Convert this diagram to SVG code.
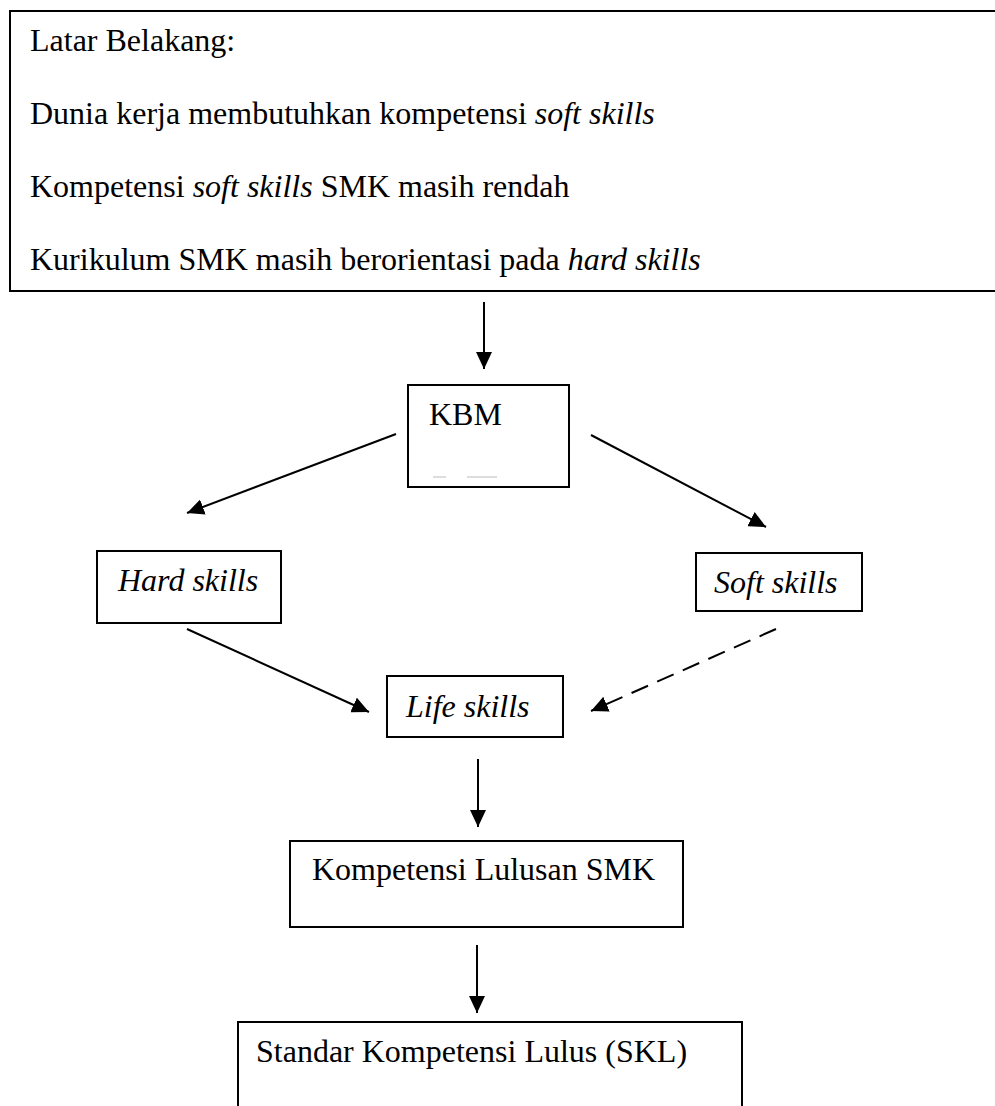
<svg xmlns="http://www.w3.org/2000/svg" width="995" height="1106" viewBox="0 0 995 1106">
<style>
  .box { fill: #ffffff; stroke: #000000; stroke-width: 2; }
  .t { font-family: "Liberation Serif", "Times New Roman", serif; font-size: 32px; fill: #000000; }
  .i { font-style: italic; }
  .c { stroke: #000000; stroke-width: 2; fill: none; marker-end: url(#ah); }
  .dash { stroke-dasharray: 18 10; }
</style>
<defs>
  <marker id="ah" viewBox="0 0 17 16" markerWidth="17" markerHeight="16" refX="17" refY="8" orient="auto" markerUnits="userSpaceOnUse">
    <path d="M0,0 L17,8 L0,16 z" fill="#000000"/>
  </marker>
</defs>
<rect width="995" height="1106" fill="#ffffff"/>

<g id="latar">
  <rect class="box" x="10" y="11" width="1000" height="280"/>
  <text class="t" x="30" y="51">Latar Belakang:</text>
  <text class="t" x="30" y="124">Dunia kerja membutuhkan kompetensi <tspan class="i">soft skills</tspan></text>
  <text class="t" x="30" y="197">Kompetensi <tspan class="i">soft skills</tspan> SMK masih rendah</text>
  <text class="t" x="30" y="270">Kurikulum SMK masih berorientasi pada <tspan class="i">hard skills</tspan></text>
</g>

<g id="kbm">
  <rect class="box" x="408" y="385" width="161" height="102"/>
  <text class="t" x="429" y="425">KBM</text>
  <line x1="433" y1="477" x2="446" y2="477" stroke="#bbbbbb" stroke-width="1"/>
  <line x1="467" y1="477" x2="497" y2="477" stroke="#bbbbbb" stroke-width="1"/>
</g>

<g id="hard">
  <rect class="box" x="97" y="551" width="184" height="72"/>
  <text class="t i" x="118" y="591">Hard skills</text>
</g>

<g id="soft">
  <rect class="box" x="696" y="553" width="166" height="58"/>
  <text class="t i" x="714" y="593">Soft skills</text>
</g>

<g id="life">
  <rect class="box" x="387" y="676" width="176" height="61"/>
  <text class="t i" x="406" y="717">Life skills</text>
</g>

<g id="kompetensi">
  <rect class="box" x="290" y="841" width="393" height="86"/>
  <text class="t" x="312" y="880">Kompetensi Lulusan SMK</text>
</g>

<g id="skl">
  <rect class="box" x="238" y="1022" width="504" height="120"/>
  <text class="t" x="256" y="1062">Standar Kompetensi Lulus (SKL)</text>
</g>

<g id="connectors">
  <line class="c" x1="484" y1="302" x2="484" y2="369"/>
  <line class="c" x1="396" y1="434" x2="187" y2="513"/>
  <line class="c" x1="591" y1="435" x2="766" y2="527"/>
  <line class="c" x1="187" y1="629" x2="369" y2="712"/>
  <line class="c dash" x1="776" y1="629" x2="591" y2="711"/>
  <line class="c" x1="478" y1="759" x2="478" y2="827"/>
  <line class="c" x1="477" y1="945" x2="477" y2="1013"/>
</g>
</svg>
